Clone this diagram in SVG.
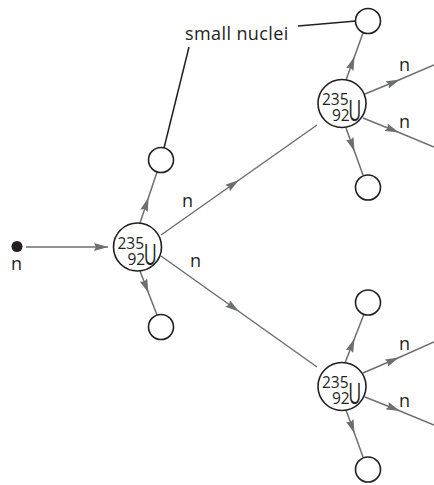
<svg xmlns="http://www.w3.org/2000/svg" width="434" height="485" viewBox="0 0 434 485">
<style>
.c{stroke:#6d6e71;stroke-width:1.5;fill:none}
.m{marker-mid:url(#a)}
.e{marker-end:url(#a)}
.k{stroke:#231f20;stroke-width:1.5;fill:none}
.nuc{fill:#fff;stroke:#231f20;stroke-width:1.6}
text{font-family:"Open Sans","Liberation Sans",sans-serif;fill:#231f20}
.d{font-size:15.5px}
.u{font-size:23px}
.n{font-size:18px}
</style>
<defs>
<marker id="a" viewBox="0 0 14 8" refX="14" refY="4" markerWidth="14" markerHeight="8" markerUnits="userSpaceOnUse" orient="auto"><path d="M0,0 L14,4 L0,8 L2,4 Z" fill="#6d6e71"/></marker>
<g id="u235">
<circle r="24" class="nuc"/>
<text class="d" x="-20" y="1.5">235</text>
<text class="d" x="-10" y="17.5">92</text>
<text class="u" transform="translate(6.3,17.5) scale(0.78,1.3)">U</text>
</g>
</defs>
<g id="connectors">
<path class="c e" d="M26,247 L108,247"/>
<path class="c m" d="M140,223 L148.5,197.5 L157,172"/>
<path class="c m" d="M140,271 L148.5,293 L157,315"/>
<path class="c m" d="M161,235 L239,180 L317,125"/>
<path class="c m" d="M161,256 L239,311.5 L317,367"/>
<path class="c m" d="M346,80 L354.5,56.5 L363,33"/>
<path class="c m" d="M346,128 L354.5,151.5 L363,175"/>
<path class="c m" d="M365,94 L400,79.5 L434,65"/>
<path class="c m" d="M363,118 L399,132.5 L434,147"/>
<path class="c m" d="M345,363 L354.5,338.5 L364,314"/>
<path class="c m" d="M346,410 L354.5,433.5 L363,457"/>
<path class="c m" d="M363,373 L399,357.5 L434,342"/>
<path class="c m" d="M365,397 L400,411 L434,425"/>
<path class="k" d="M298,26 L356,21"/>
<path class="k" d="M189,47 L164,148"/>
</g>
<g id="neutron">
<circle cx="17" cy="246.5" r="5.5" fill="#231f20"/>
<text class="n" x="11" y="270">n</text>
</g>
<g id="u-main"><use href="#u235" x="137.5" y="247"/></g>
<g id="u-upper"><use href="#u235" x="342" y="103.5"/></g>
<g id="u-lower"><use href="#u235" x="342" y="386.5"/></g>
<g id="small-1"><circle cx="161" cy="160" r="12.5" class="nuc"/></g>
<g id="small-2"><circle cx="161" cy="327" r="12.5" class="nuc"/></g>
<g id="small-3"><circle cx="368" cy="21" r="12.5" class="nuc"/></g>
<g id="small-4"><circle cx="368" cy="187.5" r="12.5" class="nuc"/></g>
<g id="small-5"><circle cx="368" cy="302.5" r="12.5" class="nuc"/></g>
<g id="small-6"><circle cx="368" cy="469.5" r="12.5" class="nuc"/></g>
<g id="labels">
<text x="185" y="40" font-size="18" letter-spacing="0.4">small nuclei</text>
<text class="n" x="182" y="207">n</text>
<text class="n" x="190" y="267">n</text>
<text class="n" x="399" y="71">n</text>
<text class="n" x="399" y="128">n</text>
<text class="n" x="399" y="350">n</text>
<text class="n" x="399" y="407">n</text>
</g>
</svg>
